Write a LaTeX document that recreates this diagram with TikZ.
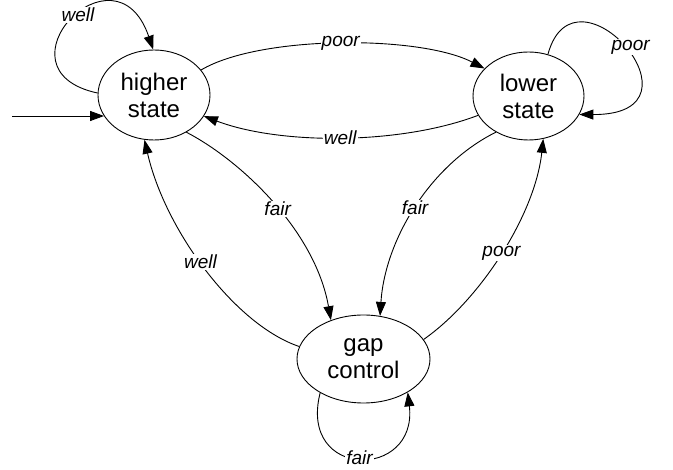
\documentclass[tikz,border=0pt]{standalone}
\usepackage{fontspec}
\setmainfont{Liberation Sans}
\usetikzlibrary{shapes.geometric,arrows.meta}
\tikzset{
  state/.style={draw, ellipse, line width=0.9pt, inner sep=0pt, align=center,
    font=\fontsize{24}{27}\selectfont},
  edge/.style={line width=0.9pt, -{Triangle[length=14pt,width=10pt]}},
  lbl/.style={fill=white, inner sep=1pt, font=\fontsize{19}{21}\selectfont\itshape}
}
\begin{document}
\begin{tikzpicture}[x=1pt,y=-1pt]
\fill[white] (0,0) rectangle (673,470);
\useasboundingbox (0,0) rectangle (673,470);

\node[state, minimum width=112pt, minimum height=90pt] (h) at (154,95) {higher\\state};
\node[state, minimum width=111pt, minimum height=88pt] (l) at (528.5,96) {lower\\state};
\node[state, minimum width=133pt, minimum height=88pt] (g) at (363.5,359) {gap\\control};
\coordinate (s) at (12,116);

% initial
\draw[edge] (s) -- (s -| h.203);

% self loops
\draw[edge] (h.178) .. controls (-10,70) and (115,-62) .. node[lbl,pos=0.55]{well} (h.91);
\draw[edge] (l.65) .. controls (575,-45) and (715,115) .. node[lbl,pos=0.5,xshift=6pt]{poor} (l.340);
\draw[edge] (g.218) .. controls (298,480) and (418,480) .. node[lbl,pos=0.5]{fair} (g.323);

% between states
\draw[edge] (h.28) .. controls (260,35) and (420,35) .. node[lbl,pos=0.5]{poor} (l.148);
\draw[edge] (l.201) .. controls (400,145) and (280,145) .. node[lbl,pos=0.5]{well} (h.337);
\draw[edge] (h.311) .. controls (240,160) and (315,230) .. node[lbl,pos=0.53]{fair} (g.130);
\draw[edge] (l.228) .. controls (430,165) and (385,240) .. node[lbl,pos=0.5]{fair} (g.69);
\draw[edge] (g.169) .. controls (235,325) and (165,230) .. node[lbl,pos=0.53]{well} (h.258);
\draw[edge] (g.18) .. controls (480,300) and (535,215) .. node[lbl,pos=0.5]{poor} (l.289);
\end{tikzpicture}
\end{document}
